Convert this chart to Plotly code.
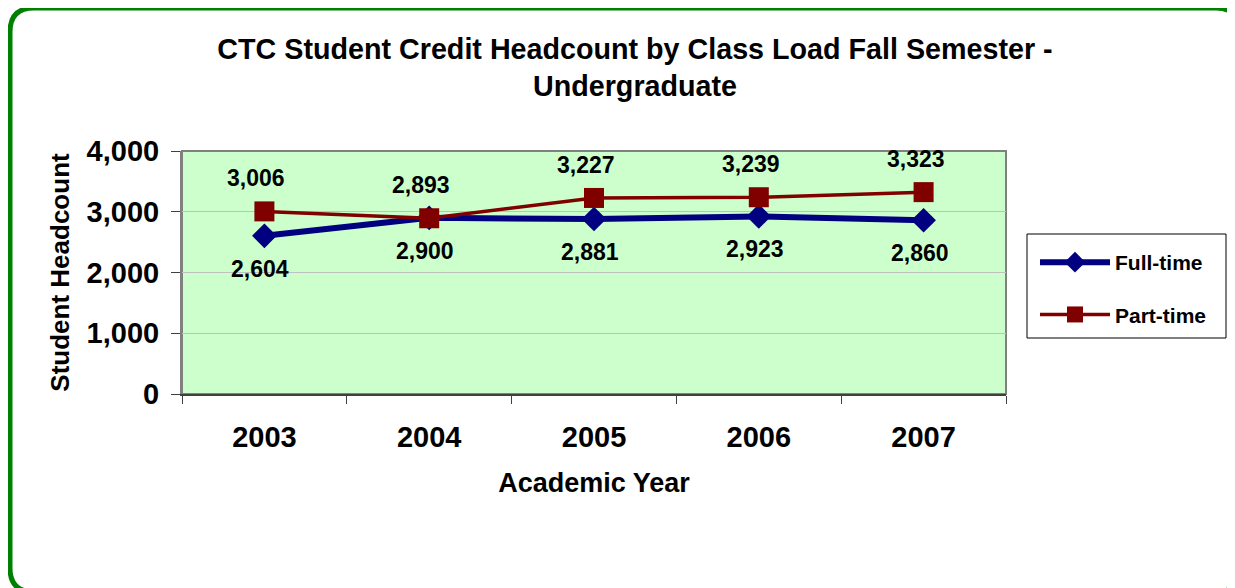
import plotly.graph_objects as go

years = ["2003", "2004", "2005", "2006", "2007"]
full_time = [2604, 2900, 2881, 2923, 2860]
part_time = [3006, 2893, 3227, 3239, 3323]
y_ticks = [0, 1000, 2000, 3000, 4000]

OFF = 8  # page body margin
W, H = 1235 - OFF, 588 - OFF
L, R, T, B = 182 - OFF, 1006 - OFF, 151 - OFF, 394 - OFF  # plot area in figure pixels
FONT = "Liberation Sans, Arial, sans-serif"


def px(x):
    """page-pixel x -> paper"""
    return (x - OFF - L) / (R - L)


def py(y):
    """page-pixel y -> paper"""
    return (B - (y - OFF)) / (B - T)


fig = go.Figure()
fig.add_trace(go.Scatter(
    x=years, y=full_time, name="<b>Full-time</b>", mode="lines+markers",
    line=dict(color="#000080", width=6),
    marker=dict(symbol="diamond", size=19, color="#000080"),
    legendgroup="a",
))
fig.add_trace(go.Scatter(
    x=years, y=part_time, name="<b>Part-time</b>", mode="lines+markers",
    line=dict(color="#800000", width=3.5),
    marker=dict(symbol="square", size=20, color="#800000"),
    legendgroup="b",
))

annotations = []
for i, v in enumerate(full_time):
    annotations.append(dict(x=i, y=v, xref="x", yref="y", text=f"<b>{v:,}</b>",
                            showarrow=False, yshift=-33, xshift=-4,
                            font=dict(family=FONT, size=23, color="black")))
for i, v in enumerate(part_time):
    annotations.append(dict(x=i, y=v, xref="x", yref="y", text=f"<b>{v:,}</b>",
                            showarrow=False, yshift=33, xshift=-8,
                            font=dict(family=FONT, size=23, color="black")))

# rounded green frame (page pixel coordinates)
x0, y0, x1, y1, r = 10, 8, 1240, 592, 24
path = (f"M {px(x0 + r)},{py(y0)} L {px(x1 - r)},{py(y0)} "
        f"Q {px(x1)},{py(y0)} {px(x1)},{py(y0 + r)} "
        f"L {px(x1)},{py(y1 - r)} Q {px(x1)},{py(y1)} {px(x1 - r)},{py(y1)} "
        f"L {px(x0 + r)},{py(y1)} Q {px(x0)},{py(y1)} {px(x0)},{py(y1 - r)} "
        f"L {px(x0)},{py(y0 + r)} Q {px(x0)},{py(y0)} {px(x0 + r)},{py(y0)} Z")

shapes = [
    dict(type="path", xref="paper", yref="paper", path=path,
         line=dict(color="#008000", width=5), layer="below"),
    dict(type="rect", xref="paper", yref="paper", x0=0, x1=1, y0=0, y1=1,
         line=dict(color="#808080", width=2), layer="below"),
    # legend box
    dict(type="rect", xref="paper", yref="paper", x0=px(1027), x1=px(1226),
         y0=py(338), y1=py(234), line=dict(color="black", width=1),
         fillcolor="white", layer="above"),
]

fig.update_layout(
    width=W, height=H,
    margin=dict(l=L, r=W - R, t=T, b=H - B, autoexpand=False),
    paper_bgcolor="white",
    plot_bgcolor="#CCFFCC",
    font=dict(family=FONT, color="black"),
    title=dict(
        text="<b>CTC Student Credit Headcount by Class Load Fall Semester -<br>Undergraduate</b>",
        x=627 / W, xanchor="center", y=1 - 51 / H, yanchor="middle",
        font=dict(family=FONT, size=28.7, color="black"),
    ),
    xaxis=dict(
        type="category", range=[-0.5, 4.5], tickson="boundaries",
        ticks="outside", ticklen=8, tickcolor="#404040", tickwidth=1,
        showline=True, linecolor="#404040", linewidth=2,
        showgrid=False, zeroline=False,
        tickfont=dict(family=FONT, size=29, color="black"),
        ticklabelstandoff=16,
        tickvals=years, ticktext=[f"<b>{y}</b>" for y in years],
        title=dict(text="<b>Academic Year</b>", standoff=21,
                   font=dict(family=FONT, size=27, color="black")),
    ),
    yaxis=dict(
        range=[0, 4000], tickvals=y_ticks,
        ticktext=[f"<b>{v:,}</b>" for v in y_ticks],
        ticks="outside", ticklen=9, tickcolor="#404040",
        showline=True, linecolor="#808080", linewidth=2,
        showgrid=True, gridcolor="#C0C0C0", gridwidth=1, zeroline=False,
        tickfont=dict(family=FONT, size=29, color="black"),
        ticklabelstandoff=6,
        title=dict(text="<b>Student Headcount</b>", standoff=10,
                   font=dict(family=FONT, size=26, color="black")),
    ),
    legend=dict(
        x=px(1035), xanchor="left", y=py(242), yanchor="top",
        bgcolor="rgba(0,0,0,0)", borderwidth=0,
        font=dict(family=FONT, size=21, color="black"),
        tracegroupgap=22, itemwidth=70,
    ),
    showlegend=True,
    annotations=annotations,
    shapes=shapes,
)

fig.write_html("out.html", config={"displayModeBar": False})
